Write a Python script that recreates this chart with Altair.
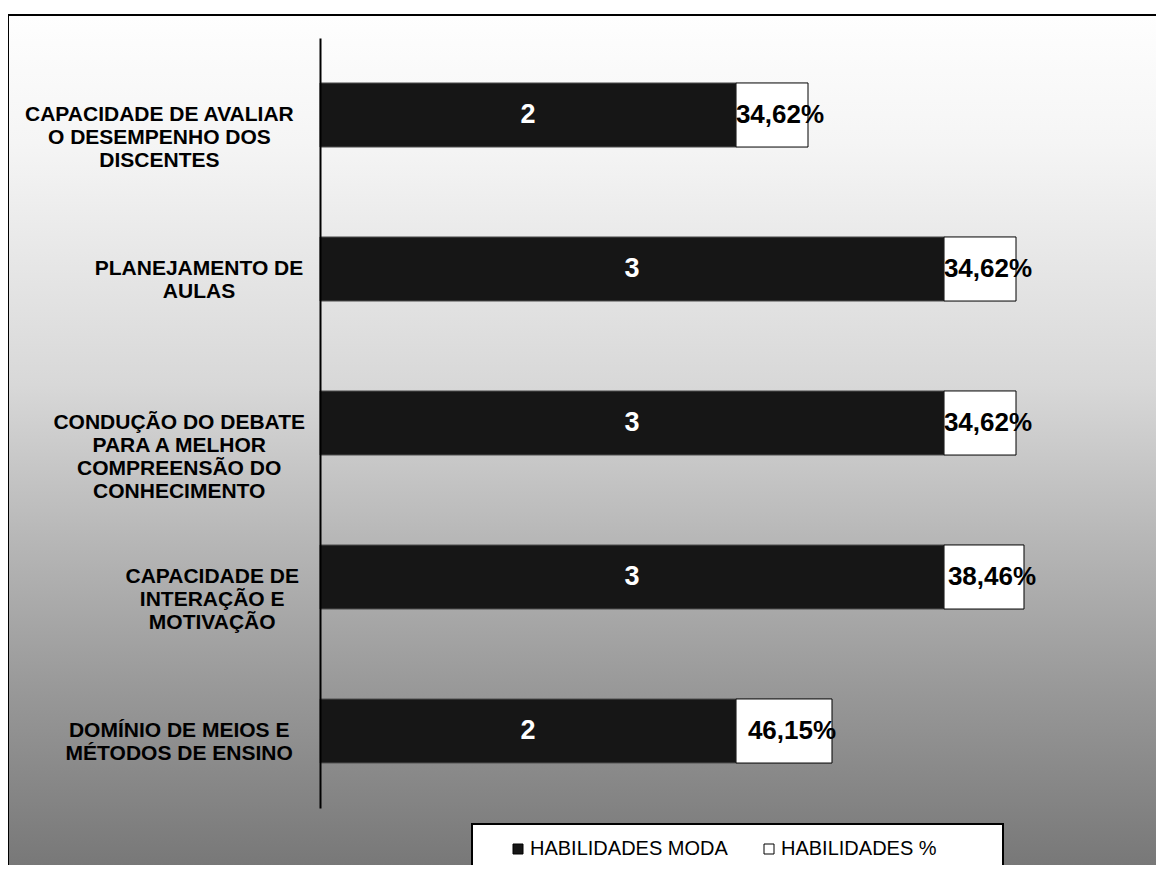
import altair as alt
import pandas as pd

# ---- data ----
categories = [
    "CAPACIDADE DE AVALIAR\nO DESEMPENHO DOS\nDISCENTES",
    "PLANEJAMENTO DE\nAULAS",
    "CONDUÇÃO DO DEBATE\nPARA A MELHOR\nCOMPREENSÃO DO\nCONHECIMENTO",
    "CAPACIDADE DE\nINTERAÇÃO E\nMOTIVAÇÃO",
    "DOMÍNIO DE MEIOS E\nMÉTODOS DE ENSINO",
]
moda_values = [2, 3, 3, 3, 2]
pct_values = [34.62, 34.62, 34.62, 38.46, 46.15]
series_names = ["HABILIDADES MODA", "HABILIDADES %"]

df = pd.DataFrame({
    "cat": categories,
    "moda": moda_values,
    "pct": pct_values,
    "pct_label": [f"{v:.2f}".replace(".", ",") + "%" for v in pct_values],
    "maxc": [max(len(s) for s in c.split("\n")) for c in categories],
})

W, H = 1148, 850
FONT = "Liberation Sans"

yenc = alt.Y(
    "cat:N",
    sort=categories,
    scale=alt.Scale(range=[23, 793], paddingInner=0.584, paddingOuter=0.292),
    axis=alt.Axis(title=None, labels=False, ticks=False, grid=False,
                  domain=True, domainColor="black", domainWidth=2, offset=-312,
                  zindex=2),
)
xscale = alt.Scale(domain=[0, 4], range=[312, 1144], nice=False)
color = alt.Color(
    "series:N",
    scale=alt.Scale(domain=series_names, range=["#161616", "#ffffff"]),
    legend=alt.Legend(
        orient="none", legendX=500, legendY=824, direction="horizontal",
        title=None, symbolType="square", symbolSize=100,
        symbolStrokeColor="black", symbolStrokeWidth=1, symbolOpacity=1,
        labelFontSize=20, labelFont=FONT, labelColor="black", labelLimit=0,
        labelOffset=2, columnPadding=31, padding=0,
    ),
)

base = alt.Chart(df)

black_bars = base.transform_calculate(series=f"'{series_names[0]}'", zero="0").mark_bar(
    stroke="#555555", strokeWidth=1, opacity=1
).encode(
    y=yenc,
    x=alt.X("zero:Q", scale=xscale, axis=None),
    x2="moda:Q",
    color=color,
)

white_bars = base.transform_calculate(
    series=f"'{series_names[1]}'", end="datum.moda + datum.pct / 100"
).mark_bar(stroke="black", strokeWidth=1, opacity=1).encode(
    y=yenc,
    x=alt.X("moda:Q", scale=xscale, axis=None),
    x2="end:Q",
    color=color,
)

moda_text = base.transform_calculate(mid="datum.moda / 2").mark_text(
    color="white", font=FONT, fontSize=27, fontWeight="bold", baseline="middle", align="center"
).encode(
    y=yenc,
    x=alt.X("mid:Q", scale=xscale, axis=None),
    text="moda:N",
)

pct_text = base.transform_calculate(pmid="datum.moda + datum.pct / 200").mark_text(
    color="black", font=FONT, fontSize=26, fontWeight="bold", baseline="middle",
    align="center", dx=8
).encode(
    y=yenc,
    x=alt.X("pmid:Q", scale=xscale, axis=None),
    text="pct_label:N",
)

cat_text = base.mark_text(
    color="black", font=FONT, fontSize=21, fontWeight="bold", baseline="middle",
    align="center", lineBreak="\n", lineHeight=23,
    dx=alt.expr("-22 - datum.maxc * 6.6"),
).encode(
    y=yenc,
    x=alt.X(datum=0, scale=xscale, axis=None),
    text="cat:N",
)

gradient = alt.LinearGradient(
    gradient="linear", x1=0, y1=0, x2=0, y2=1,
    stops=[
        alt.GradientStop(offset=0.0, color="#fefefe"),
        alt.GradientStop(offset=0.15, color="#f5f5f5"),
        alt.GradientStop(offset=0.435, color="#d8d8d8"),
        alt.GradientStop(offset=0.61, color="#b8b8b8"),
        alt.GradientStop(offset=0.79, color="#999999"),
        alt.GradientStop(offset=1.0, color="#787878"),
    ],
)

one = alt.Data(values=[{}])
background = alt.Chart(one).mark_rect(fill=gradient, strokeWidth=0).encode(
    x=alt.value(0), x2=alt.value(W), y=alt.value(0), y2=alt.value(H)
)
frame_top = alt.Chart(one).mark_rule(color="black", strokeWidth=2).encode(
    x=alt.value(0), x2=alt.value(W), y=alt.value(0)
)
frame_left = alt.Chart(one).mark_rule(color="black", strokeWidth=2).encode(
    x=alt.value(0), y=alt.value(0), y2=alt.value(H)
)
legend_box = alt.Chart(one).mark_rect(fill="white", stroke="black", strokeWidth=2).encode(
    x=alt.value(464), x2=alt.value(995), y=alt.value(809), y2=alt.value(853)
)

chart = alt.layer(
    background, legend_box, black_bars, white_bars, moda_text, pct_text, cat_text,
    frame_top, frame_left
).properties(
    width=W, height=H,
    autosize=alt.AutoSizeParams(type="none"),
    padding={"left": 0, "top": 7, "right": 0, "bottom": 0},
).configure_view(
    stroke=None
).configure(font=FONT)

chart.save("out.html", embed_options={"renderer": "svg", "actions": False})
